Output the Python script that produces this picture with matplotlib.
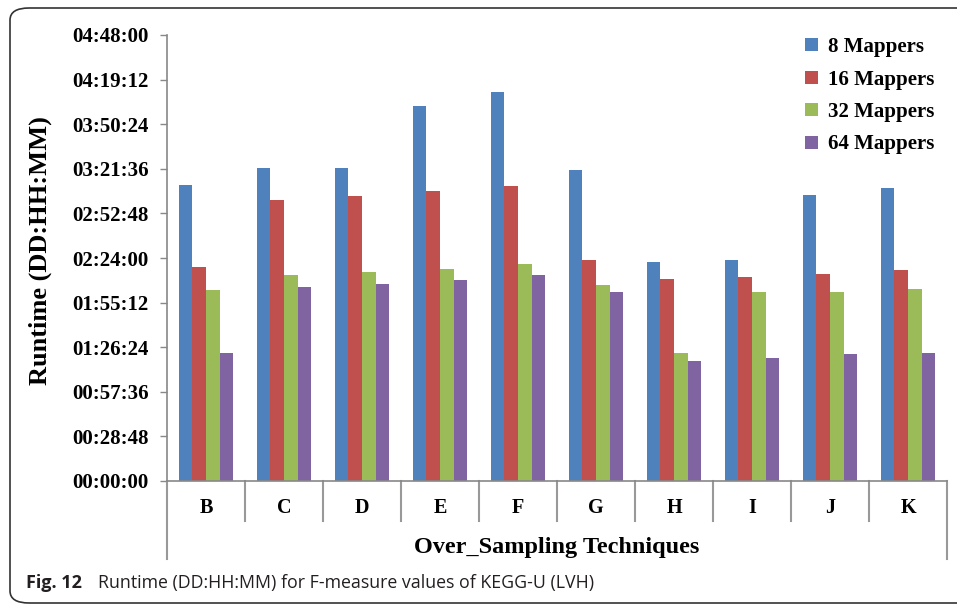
import matplotlib
matplotlib.use("Agg")
import matplotlib.pyplot as plt
from matplotlib.patches import FancyBboxPatch
import matplotlib.transforms as mtransforms
import numpy as np

# runtimes in days (DD:HH:MM axis), one list per mapper count
techniques = ['B', 'C', 'D', 'E', 'F', 'G', 'H', 'I', 'J', 'K']
mappers_8 = [0.1329, 0.1405, 0.1405, 0.1683, 0.1744, 0.1396, 0.0982, 0.0991, 0.1284, 0.1314]
mappers_16 = [0.0960, 0.1262, 0.1277, 0.1299, 0.1322, 0.0991, 0.0908, 0.0915, 0.0930, 0.0945]
mappers_32 = [0.0855, 0.0922, 0.0937, 0.0952, 0.0975, 0.0878, 0.0576, 0.0848, 0.0848, 0.0863]
mappers_64 = [0.0576, 0.0870, 0.0885, 0.0900, 0.0922, 0.0848, 0.0537, 0.0552, 0.0568, 0.0576]
series_names = ['8 Mappers', '16 Mappers', '32 Mappers', '64 Mappers']
colors = ['#4F81BD', '#C0504D', '#9BBB59', '#8064A2']

W, H = 957, 605
fig = plt.figure(figsize=(W / 100, H / 100), dpi=100)
serif = 'Liberation Serif'

# rounded frame around the whole figure
frame = FancyBboxPatch((10 / W, 1 - 603 / H), 1040 / W, (603 - 8) / H,
                       boxstyle='round,pad=0,rounding_size=0.02',
                       transform=fig.transFigure, fill=False,
                       edgecolor='#333333', linewidth=1.2, clip_on=False)
fig.patches.append(frame)

ax = fig.add_axes([167 / W, 1 - 481 / H, (947 - 167) / W, (481 - 35) / H])

x = np.arange(len(techniques))
bw = 0.175
data = [mappers_8, mappers_16, mappers_32, mappers_64]
for i, (vals, name, c) in enumerate(zip(data, series_names, colors)):
    ax.bar(x + (i - 1.5) * bw, vals, bw, color=c, label=name)

ax.set_xlim(-0.5, len(techniques) - 0.5)
ax.set_ylim(0, 0.2)
yt = np.arange(0, 0.2001, 0.02)


def fmt(v):
    s = int(round(v * 86400))
    return '%02d:%02d:%02d' % (s // 3600, (s % 3600) // 60, s % 60)


ax.set_yticks(yt)
ax.set_yticklabels([fmt(v) for v in yt], fontfamily=serif, fontweight='bold', fontsize=15)
ax.tick_params(axis='y', direction='out', length=5, width=1, color='#888888', pad=8)

ax.set_xticks(x)
ax.set_xticklabels(techniques, fontfamily=serif, fontweight='bold', fontsize=14.5)
ax.tick_params(axis='x', length=0, pad=12)

for s in ['top', 'right']:
    ax.spines[s].set_visible(False)
for s in ['left', 'bottom']:
    ax.spines[s].set_color('#888888')
    ax.spines[s].set_linewidth(1.2)

# category separators below the x axis
trans = mtransforms.blended_transform_factory(ax.transData, ax.transAxes)
for k in range(len(techniques) + 1):
    b = k - 0.5
    low = -0.175 if k in (0, len(techniques)) else -0.0897
    ax.plot([b, b], [0, low], color='#999999', linewidth=1.5,
            transform=trans, clip_on=False)

fig.text(557 / W, 1 - 548 / H, 'Over_Sampling Techniques', fontfamily=serif,
         fontweight='bold', fontsize=17.5, ha='center', va='center')
fig.text(40 / W, 1 - 251 / H, 'Runtime (DD:HH:MM)', fontfamily=serif,
         fontweight='bold', fontsize=19, rotation=90, ha='center', va='center')

leg = fig.legend(loc='upper left', bbox_to_anchor=(805 / W, 1 - 37 / H),
                 frameon=False, prop={'family': serif, 'weight': 'bold', 'size': 15},
                 handlelength=0.6, handleheight=0.6, handletextpad=0.5,
                 labelspacing=0.6, borderpad=0, borderaxespad=0)

fig.text(26 / W, 1 - 583 / H, 'Fig. 12', fontfamily='Open Sans', fontweight='bold',
         fontsize=13, color='#231f20', va='center')
fig.text(98 / W, 1 - 583 / H, 'Runtime (DD:HH:MM) for F-measure values of KEGG-U (LVH)',
         fontfamily='Open Sans', fontsize=12.8, color='#231f20', va='center')

fig.savefig('out.png', dpi=100)
